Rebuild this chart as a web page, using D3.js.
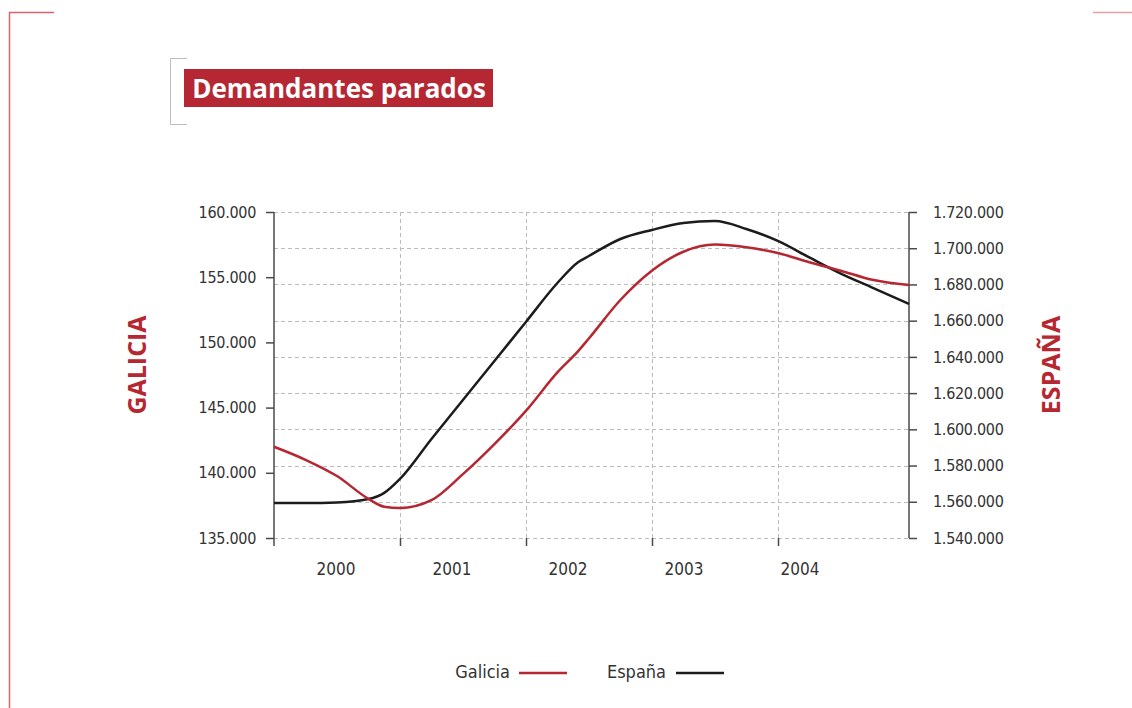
<!DOCTYPE html>
<html>
<head>
<meta charset="utf-8">
<script src="https://cdn.jsdelivr.net/npm/d3@7"></script>
<style>
  body { margin: 0; background: #fff; }
  text { font-family: "Liberation Sans Narrow", "DejaVu Sans Condensed", sans-serif; }
</style>
</head>
<body>
<div id="chart"></div>
<script>
// readings, month 0 = start of 2000
var months = [0, 3, 6, 9, 10.5, 12, 15, 18, 21, 24, 27, 29, 30, 33, 36, 39, 42, 45, 48, 51, 54, 57, 60.5];
var galicia = [142000, 141000, 139750, 138000, 137400, 137300, 137900, 139900, 142200, 144750, 147700, 149350, 150300,
               153250, 155500, 156950, 157500, 157300, 156850, 156150, 155500, 154800, 154400];
var espana = [1559300, 1559300, 1559600, 1561500, 1564900, 1572600, 1594700, 1616200, 1637700, 1659300, 1680800, 1692400, 1695700,
              1705100, 1710100, 1713900, 1715000, 1710600, 1704000, 1694900, 1686000, 1678300, 1669200];
var years = ["2000", "2001", "2002", "2003", "2004"];
var yearTicks = [12, 24, 36, 48];
var leftTicks = [135000, 140000, 145000, 150000, 155000, 160000];
var rightTicks = d3.range(1540000, 1720001, 20000);

var red = "#b52731", dark = "#1c1c1c", axisCol = "#4a4a4a";
var fmt = d3.formatLocale({decimal: ",", thousands: ".", grouping: [3], currency: ["", ""]}).format(",d");

var svg = d3.select("#chart").append("svg")
  .attr("width", 1132).attr("height", 708);

// page frame
svg.append("path").attr("d", "M9.5,708V12.5H54").attr("fill", "none").attr("stroke", "#d4666e").attr("stroke-width", 1.5);
svg.append("line").attr("x1", 1093).attr("x2", 1132).attr("y1", 12.5).attr("y2", 12.5)
  .attr("stroke", "#e3a0a5").attr("stroke-width", 1.5);

// title
svg.append("path").attr("d", "M187,58.5H170.5V124.5H187").attr("fill", "none").attr("stroke", "#bdbdbd");
svg.append("rect").attr("x", 184).attr("y", 69).attr("width", 309).attr("height", 38).attr("fill", "#b52833");
svg.append("text").attr("x", 339).attr("y", 98).attr("text-anchor", "middle")
  .style("font-family", "'Open Sans', sans-serif").style("font-weight", 700).style("font-size", "26px")
  .attr("fill", "#fff").text("Demandantes parados");

var xLeft = 274, xRight = 909, yTop = 212, yBottom = 538;
var x = d3.scaleLinear().domain([0, 60.5]).range([xLeft, xRight]);
var yL = d3.scaleLinear().domain([135000, 160000]).range([yBottom, yTop]);
var yR = d3.scaleLinear().domain([1540000, 1720000]).range([yBottom, yTop]);
var yearPos = d3.scaleBand().domain(years).range([278, 858]);

var g = svg.append("g");

// grid
g.selectAll(".hg").data(rightTicks).enter().append("line")
  .attr("x1", xLeft).attr("x2", xRight)
  .attr("y1", d => Math.round(yR(d)) + 0.5).attr("y2", d => Math.round(yR(d)) + 0.5)
  .attr("stroke", "#bcbcbc").attr("stroke-dasharray", "4,3");
g.selectAll(".vg").data(yearTicks).enter().append("line")
  .attr("x1", d => Math.round(x(d)) + 0.5).attr("x2", d => Math.round(x(d)) + 0.5)
  .attr("y1", yTop).attr("y2", yBottom)
  .attr("stroke", "#bcbcbc").attr("stroke-dasharray", "4,3");

// year ticks
g.selectAll(".yt").data(yearTicks).enter().append("line")
  .attr("x1", d => Math.round(x(d)) + 0.5).attr("x2", d => Math.round(x(d)) + 0.5)
  .attr("y1", yBottom).attr("y2", yBottom + 8)
  .attr("stroke", axisCol).attr("stroke-width", 1.5);
g.selectAll(".yl").data(years).enter().append("text")
  .attr("x", d => yearPos(d) + yearPos.bandwidth() / 2).attr("y", 575)
  .attr("text-anchor", "middle").style("font-size", "17px").attr("fill", "#333")
  .text(d => d);

// left axis
var axL = svg.append("g").attr("transform", `translate(${xLeft},0)`)
  .call(d3.axisLeft(yL).tickValues(leftTicks).tickFormat(fmt).tickSize(8).tickPadding(10));
axL.select(".domain").attr("d", `M0,${yTop}V${yBottom + 8}`);
// right axis
var axR = svg.append("g").attr("transform", `translate(${xRight},0)`)
  .call(d3.axisRight(yR).tickValues(rightTicks).tickFormat(fmt).tickSize(8).tickPadding(16));
axR.select(".domain").attr("d", `M0,${yTop}V${yBottom}`);
[axL, axR].forEach(function(a) {
  a.selectAll("path, line").attr("stroke", axisCol).attr("stroke-width", 1.5);
  a.selectAll("text").style("font-size", "16px").style("letter-spacing", "-0.3px").attr("fill", "#333")
    .style("font-family", "'Liberation Sans Narrow', 'DejaVu Sans Condensed', sans-serif");
});

// lines
var lineL = d3.line().x((d, i) => x(months[i])).y(d => yL(d)).curve(d3.curveMonotoneX);
var lineR = d3.line().x((d, i) => x(months[i])).y(d => yR(d)).curve(d3.curveMonotoneX);
svg.append("path").datum(espana).attr("d", lineR)
  .attr("fill", "none").attr("stroke", dark).attr("stroke-width", 2.5);
svg.append("path").datum(galicia).attr("d", lineL)
  .attr("fill", "none").attr("stroke", red).attr("stroke-width", 2.5);

// axis titles
svg.append("text").attr("transform", "translate(146,365) rotate(-90)")
  .attr("text-anchor", "middle").style("font-family", "'Open Sans', sans-serif")
  .style("font-weight", 700).style("font-size", "25px").attr("fill", red).text("GALICIA");
svg.append("text").attr("transform", "translate(1060,365) rotate(-90)")
  .attr("text-anchor", "middle").style("font-family", "'Open Sans', sans-serif")
  .style("font-weight", 700).style("font-size", "25px").attr("fill", red).text("ESPAÑA");

// legend
var legend = [{name: "Galicia", color: red, tx: 510, lx: 519}, {name: "España", color: dark, tx: 666, lx: 676}];
var lg = svg.selectAll(".lg").data(legend).enter().append("g");
lg.append("text").attr("x", d => d.tx).attr("y", 678).attr("text-anchor", "end")
  .style("font-size", "18px").attr("fill", "#333").text(d => d.name);
lg.append("line").attr("x1", d => d.lx).attr("x2", d => d.lx + 48).attr("y1", 673).attr("y2", 673)
  .attr("stroke", d => d.color).attr("stroke-width", 2.5);
</script>
</body>
</html>
